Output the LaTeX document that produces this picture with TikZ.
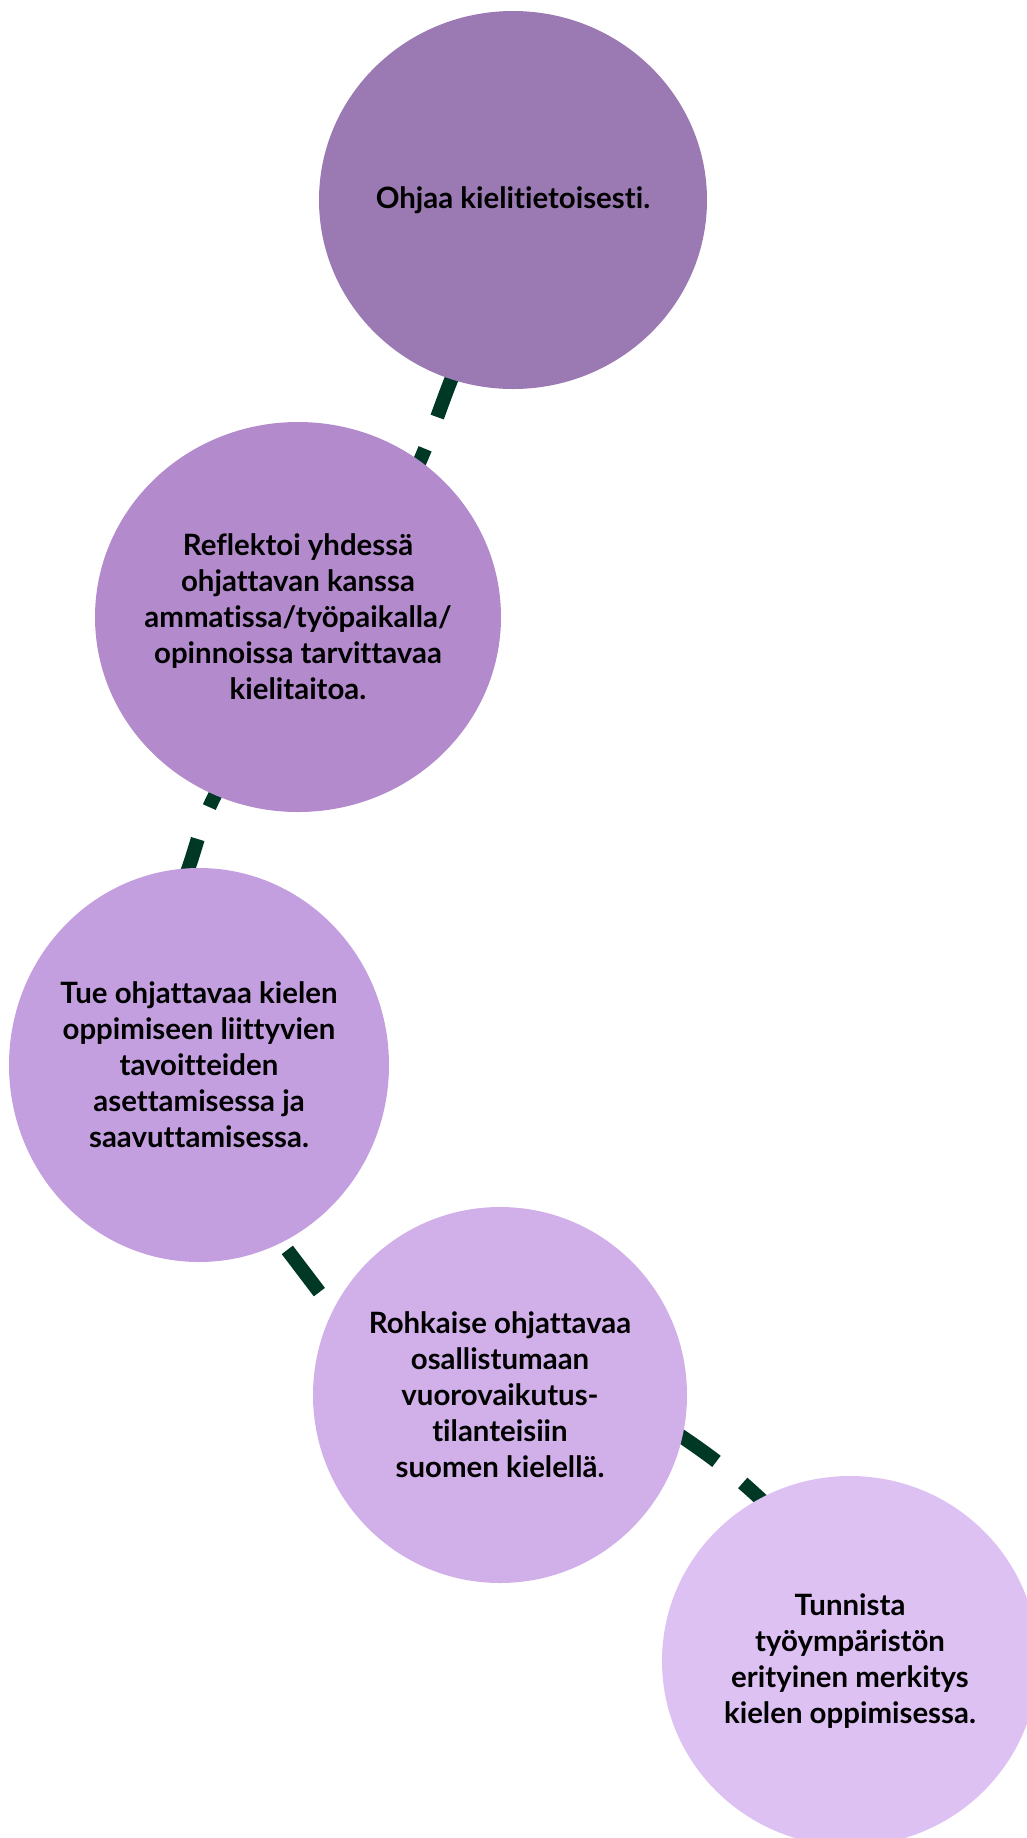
\documentclass[tikz,border=0pt]{standalone}
\usepackage{fontspec}
\setsansfont{Lato}[Ligatures=NoCommon]
\usetikzlibrary{shapes.geometric, backgrounds}
\definecolor{tone1}{RGB}{155,122,180}
\definecolor{tone2}{RGB}{179,139,204}
\definecolor{tone3}{RGB}{196,159,223}
\definecolor{tone4}{RGB}{209,175,233}
\definecolor{tone5}{RGB}{222,193,243}
\definecolor{trailgreen}{RGB}{0,56,38}
\tikzset{
	bubble/.style={ellipse, inner sep=0pt},
	bubbletext/.style={align=center, text=black,
		font=\sffamily\bfseries\fontsize{14.7}{18}\selectfont},
	trail/.style={draw=trailgreen, line width=7pt, dash pattern=on 26.5pt off 17pt,
		shorten <=-4pt, shorten >=-4pt}
}
\begin{document}
\begin{tikzpicture}[x=0.5pt, y=0.5pt]
	% Page frame, same proportions as the original slide.
	\useasboundingbox (0,0) rectangle (1027,-1838);
	
	% === NODES ===
	% The five steps, top to bottom.
	
	\node[bubble, fill=tone1, minimum width=194pt, minimum height=189pt,
		label={[bubbletext]center:Ohjaa kielitietoisesti.}] (ohjaa) at (513,-200) {};
	\node[bubble, fill=tone2, minimum width=203pt, minimum height=195pt,
		label={[bubbletext]center:Reflektoi yhdessä\\ ohjattavan kanssa\\ ammatissa/työpaikalla/\\ opinnoissa tarvittavaa\\ kielitaitoa.}] (reflektoi) at (298,-617) {};
	\node[bubble, fill=tone3, minimum width=190pt, minimum height=197pt,
		label={[bubbletext]center:Tue ohjattavaa kielen\\ oppimiseen liittyvien\\ tavoitteiden\\ asettamisessa ja\\ saavuttamisessa.}] (tue) at (199,-1065) {};
	\node[bubble, fill=tone4, minimum width=187pt, minimum height=188pt,
		label={[bubbletext]center:Rohkaise ohjattavaa\\ osallistumaan\\ vuorovaikutus-\\ tilanteisiin\\ suomen kielellä.}] (rohkaise) at (500,-1395) {};
	\node[bubble, fill=tone5, minimum width=188pt, minimum height=185pt,
		label={[bubbletext]center:Tunnista\\ työympäristön\\ erityinen merkitys\\ kielen oppimisessa.}] (tunnista) at (850,-1661) {};
	
	% page number, cut off by the lower edge
	\node[font=\sffamily\fontsize{14}{16}\selectfont] (sivu) at (500,-1850) {4};
	
	% === CONNECTIONS ===
	% Dashed trail behind the bubbles.
	
	\begin{scope}[on background layer]
		\draw[trail, dash phase=2.5pt] (ohjaa.251) to[out=248, in=66] (reflektoi.52);
		\draw[trail, dash phase=16pt] (reflektoi.245) to[out=241, in=70] (tue.93);
		\draw[trail, dash phase=35pt] (tue.295) -- (rohkaise.153);
		\draw[trail, dash phase=1.7pt] (rohkaise.347) to[out=-34, in=137] (tunnista.119);
	\end{scope}
\end{tikzpicture}
\end{document}
